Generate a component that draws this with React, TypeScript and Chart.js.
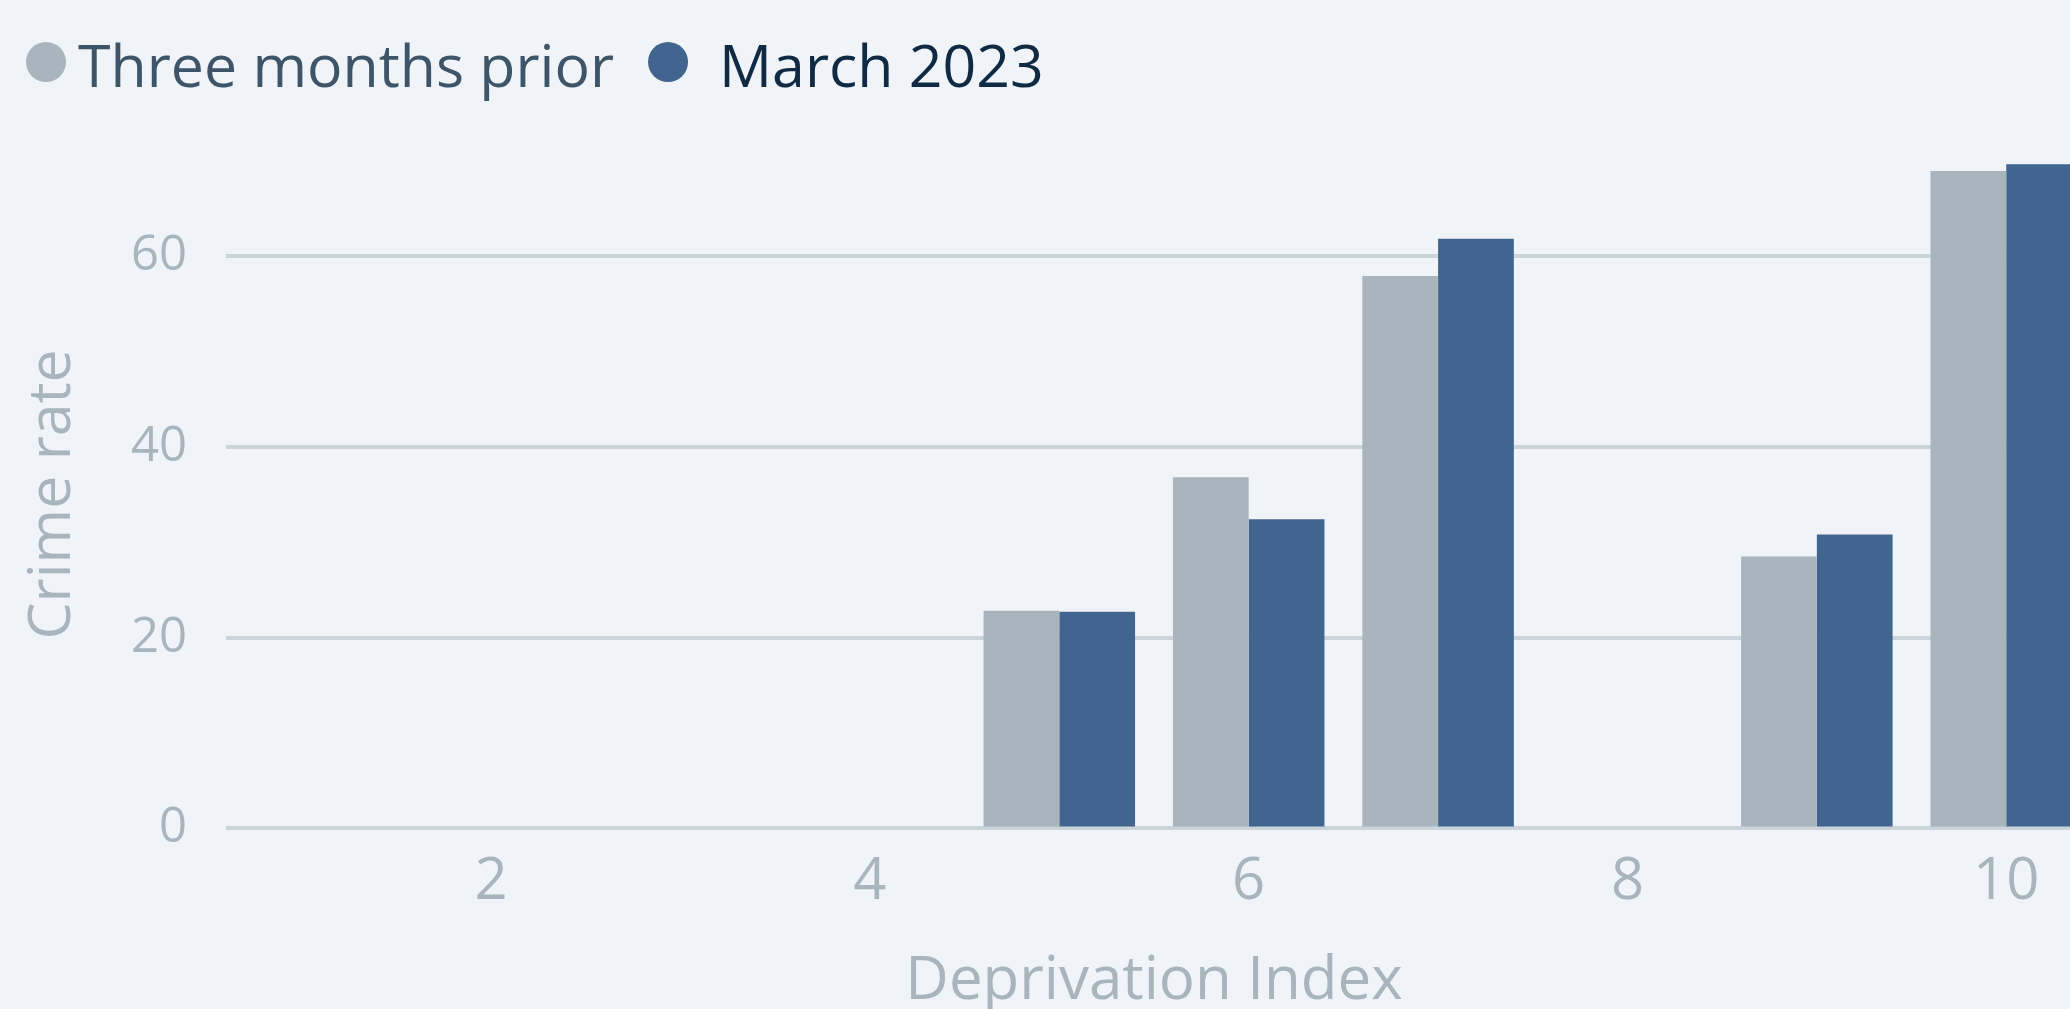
import React, { useEffect, useRef } from 'react';
import { Chart, registerables } from 'chart.js';

Chart.register(...registerables);

// ---- data ----
const deprivationIndex = [5, 6, 7, 9, 10];
const threeMonthsPrior = [22.8, 36.8, 57.9, 28.5, 68.9];
const march2023 = [22.7, 32.4, 61.8, 30.8, 69.6];
const xTickValues = [2, 4, 6, 8, 10];
const yTickValues = [0, 20, 40, 60];
const seriesLabels = ['Three months prior', 'March 2023'];

// ---- styles ----
const FONT = '"Open Sans", "Noto Sans", sans-serif';
const seriesColors = ['#a8b5bd', '#41658e'];
const legendTextColors = ['#3e5569', '#102a44'];
const axisTextColor = '#a8b5bd';
const gridColor = '#cad4da';
const bgColor = '#f0f4f8';

const CANVAS_W = 2090;
const CANVAS_H = 1018;

const dotLegend = {
  id: 'dotLegend',
  afterDraw(chart: any) {
    const ctx = chart.ctx;
    ctx.save();
    ctx.font = `59px ${FONT}`;
    ctx.textBaseline = 'alphabetic';
    ctx.textAlign = 'left';
    const r = 20;
    const cy = 62;
    const baseline = 87;
    let x = 26;
    chart.data.datasets.forEach((ds: any, i: number) => {
      ctx.beginPath();
      ctx.fillStyle = ds.backgroundColor;
      ctx.arc(x + r, cy, r, 0, Math.PI * 2);
      ctx.fill();
      const gap = i === 0 ? 12 : 31;
      const tx = x + 2 * r + gap;
      ctx.fillStyle = legendTextColors[i];
      ctx.fillText(ds.label, tx, baseline);
      x = tx + ctx.measureText(ds.label).width + 34;
    });
    ctx.restore();
  },
};

export default function App() {
  const canvasRef = useRef<HTMLCanvasElement | null>(null);

  useEffect(() => {
    const canvas = canvasRef.current;
    if (!canvas) return;
    const chart = new Chart(canvas, {
      type: 'bar',
      data: {
        datasets: [
          {
            label: seriesLabels[0],
            data: deprivationIndex.map((x, i) => ({ x, y: threeMonthsPrior[i] })),
            backgroundColor: seriesColors[0],
            borderWidth: 0,
          },
          {
            label: seriesLabels[1],
            data: deprivationIndex.map((x, i) => ({ x, y: march2023[i] })),
            backgroundColor: seriesColors[1],
            borderWidth: 0,
          },
        ],
      },
      options: {
        responsive: false,
        animation: false,
        devicePixelRatio: 1,
        categoryPercentage: 0.8,
        barPercentage: 1.0,
        layout: { padding: { top: 160.5, left: 0, right: 8, bottom: 0 } },
        plugins: {
          legend: { display: false },
          tooltip: { enabled: false },
        },
        scales: {
          x: {
            type: 'linear',
            min: 0.6,
            max: 10.4,
            offset: false,
            grid: { display: false, drawTicks: false },
            border: { display: false },
            afterBuildTicks: (scale: any) => {
              scale.ticks = xTickValues.map((v) => ({ value: v }));
            },
            ticks: {
              padding: 19,
              color: axisTextColor,
              font: { family: FONT, size: 58 },
              maxRotation: 0,
              autoSkip: false,
            },
            title: {
              display: true,
              text: 'Deprivation Index',
              color: axisTextColor,
              font: { family: FONT, size: 60 },
              padding: { top: 10, bottom: 0 },
            },
          },
          y: {
            type: 'linear',
            min: 0,
            max: 70,
            grid: { color: gridColor, lineWidth: 4, drawTicks: false },
            border: { display: false },
            afterBuildTicks: (scale: any) => {
              scale.ticks = yTickValues.map((v) => ({ value: v }));
            },
            afterFit: (scale: any) => {
              scale.width = 226;
            },
            ticks: {
              padding: 39,
              color: axisTextColor,
              font: { family: FONT, size: 49 },
            },
            title: {
              display: true,
              text: 'Crime rate',
              color: axisTextColor,
              font: { family: FONT, size: 59 },
              padding: { top: 18, bottom: 0 },
            },
          },
        },
      },
      plugins: [dotLegend],
    });
    return () => chart.destroy();
  }, []);

  return (
    <div
      style={{
        position: 'fixed',
        left: 0,
        top: 0,
        width: '100vw',
        height: '100vh',
        overflow: 'hidden',
        background: bgColor,
      }}
    >
      <canvas
        ref={canvasRef}
        width={CANVAS_W}
        height={CANVAS_H}
        style={{ display: 'block', width: CANVAS_W, height: CANVAS_H, background: bgColor }}
      />
    </div>
  );
}
